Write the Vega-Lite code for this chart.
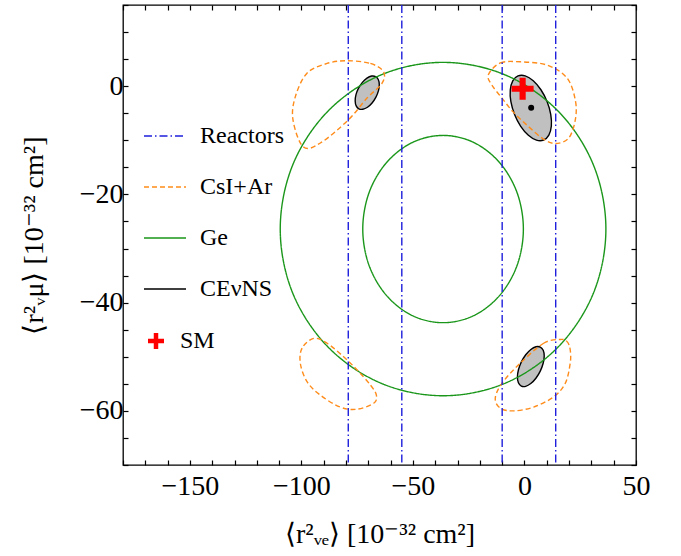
{
  "$schema": "https://vega.github.io/schema/vega-lite/v6.json",
  "width": 513,
  "height": 460,
  "autosize": {"type": "none"},
  "padding": {"left": 123, "top": 5, "right": 45, "bottom": 91},
  "config": {
    "view": {"stroke": "black", "strokeWidth": 1.3},
    "font": "Liberation Serif",
    "axis": {
      "domain": false, "grid": false, "tickColor": "black", "tickSize": -5, "tickWidth": 1.2,
      "labelFont": "Liberation Serif", "labelFontSize": 28, "labelColor": "black",
      "labelOverlap": false, "labelFlush": false,
      "titleFont": "Liberation Serif", "titleFontSize": 28, "titleFontWeight": "normal", "titleColor": "black"
    },
    "legend": {"labelFont": "Liberation Serif", "labelFontSize": 24, "labelColor": "black", "padding": 0}
  },
  "datasets": {
    "contours": [
      {"s":"Ge","id":"g1","i":0,"x":36.5,"y":-26.4},
      {"s":"Ge","id":"g1","i":1,"x":30.95,"y":-14.6},
      {"s":"Ge","id":"g1","i":2,"x":15.11,"y":-4.62},
      {"s":"Ge","id":"g1","i":3,"x":-8.54,"y":2.06},
      {"s":"Ge","id":"g1","i":4,"x":-36.5,"y":4.4},
      {"s":"Ge","id":"g1","i":5,"x":-64.46,"y":2.06},
      {"s":"Ge","id":"g1","i":6,"x":-88.11,"y":-4.62},
      {"s":"Ge","id":"g1","i":7,"x":-103.95,"y":-14.6},
      {"s":"Ge","id":"g1","i":8,"x":-109.5,"y":-26.4},
      {"s":"Ge","id":"g1","i":9,"x":-103.95,"y":-38.2},
      {"s":"Ge","id":"g1","i":10,"x":-88.11,"y":-48.18},
      {"s":"Ge","id":"g1","i":11,"x":-64.46,"y":-54.86},
      {"s":"Ge","id":"g1","i":12,"x":-36.5,"y":-57.2},
      {"s":"Ge","id":"g1","i":13,"x":-8.54,"y":-54.86},
      {"s":"Ge","id":"g1","i":14,"x":15.11,"y":-48.18},
      {"s":"Ge","id":"g1","i":15,"x":30.95,"y":-38.2},
      {"s":"Ge","id":"g2","i":0,"x":-0.5,"y":-26.4},
      {"s":"Ge","id":"g2","i":1,"x":-3.24,"y":-19.77},
      {"s":"Ge","id":"g2","i":2,"x":-11.05,"y":-14.17},
      {"s":"Ge","id":"g2","i":3,"x":-22.71,"y":-10.41},
      {"s":"Ge","id":"g2","i":4,"x":-36.5,"y":-9.1},
      {"s":"Ge","id":"g2","i":5,"x":-50.29,"y":-10.41},
      {"s":"Ge","id":"g2","i":6,"x":-61.95,"y":-14.17},
      {"s":"Ge","id":"g2","i":7,"x":-69.76,"y":-19.77},
      {"s":"Ge","id":"g2","i":8,"x":-72.5,"y":-26.4},
      {"s":"Ge","id":"g2","i":9,"x":-69.76,"y":-33.03},
      {"s":"Ge","id":"g2","i":10,"x":-61.95,"y":-38.63},
      {"s":"Ge","id":"g2","i":11,"x":-50.29,"y":-42.39},
      {"s":"Ge","id":"g2","i":12,"x":-36.5,"y":-43.7},
      {"s":"Ge","id":"g2","i":13,"x":-22.71,"y":-42.39},
      {"s":"Ge","id":"g2","i":14,"x":-11.05,"y":-38.63},
      {"s":"Ge","id":"g2","i":15,"x":-3.24,"y":-33.03},
      {"s":"CsI+Ar","id":"c1","i":0,"x":-79.6,"y":4.7},
      {"s":"CsI+Ar","id":"c1","i":1,"x":-69.1,"y":4.2},
      {"s":"CsI+Ar","id":"c1","i":2,"x":-63.2,"y":2.7},
      {"s":"CsI+Ar","id":"c1","i":3,"x":-63.9,"y":0.5},
      {"s":"CsI+Ar","id":"c1","i":4,"x":-70.6,"y":-2.2},
      {"s":"CsI+Ar","id":"c1","i":5,"x":-78.9,"y":-6.2},
      {"s":"CsI+Ar","id":"c1","i":6,"x":-91.5,"y":-10.5},
      {"s":"CsI+Ar","id":"c1","i":7,"x":-99.2,"y":-11.2},
      {"s":"CsI+Ar","id":"c1","i":8,"x":-103.8,"y":-6.2},
      {"s":"CsI+Ar","id":"c1","i":9,"x":-102.7,"y":-1.9},
      {"s":"CsI+Ar","id":"c1","i":10,"x":-97.5,"y":2.4},
      {"s":"CsI+Ar","id":"c1","i":11,"x":-88.5,"y":4.2},
      {"s":"CsI+Ar","id":"c2","i":0,"x":-16.2,"y":2.1},
      {"s":"CsI+Ar","id":"c2","i":1,"x":-10.8,"y":4.3},
      {"s":"CsI+Ar","id":"c2","i":2,"x":-1.9,"y":4.5},
      {"s":"CsI+Ar","id":"c2","i":3,"x":10.1,"y":3.9},
      {"s":"CsI+Ar","id":"c2","i":4,"x":19.1,"y":1.5},
      {"s":"CsI+Ar","id":"c2","i":5,"x":22.8,"y":-2.6},
      {"s":"CsI+Ar","id":"c2","i":6,"x":22.8,"y":-6.2},
      {"s":"CsI+Ar","id":"c2","i":7,"x":19.8,"y":-9.6},
      {"s":"CsI+Ar","id":"c2","i":8,"x":13.8,"y":-10.6},
      {"s":"CsI+Ar","id":"c2","i":9,"x":7.9,"y":-9.6},
      {"s":"CsI+Ar","id":"c2","i":10,"x":1.1,"y":-7.2},
      {"s":"CsI+Ar","id":"c2","i":11,"x":-5.2,"y":-4.7},
      {"s":"CsI+Ar","id":"c2","i":12,"x":-10.1,"y":-2.2},
      {"s":"CsI+Ar","id":"c2","i":13,"x":-14.6,"y":0.2},
      {"s":"CsI+Ar","id":"c3","i":0,"x":-94.5,"y":-46.6},
      {"s":"CsI+Ar","id":"c3","i":1,"x":-99.7,"y":-48.4},
      {"s":"CsI+Ar","id":"c3","i":2,"x":-100.5,"y":-51.2},
      {"s":"CsI+Ar","id":"c3","i":3,"x":-97.5,"y":-54.6},
      {"s":"CsI+Ar","id":"c3","i":4,"x":-91.5,"y":-57.1},
      {"s":"CsI+Ar","id":"c3","i":5,"x":-82.6,"y":-59.3},
      {"s":"CsI+Ar","id":"c3","i":6,"x":-75.1,"y":-59.7},
      {"s":"CsI+Ar","id":"c3","i":7,"x":-67.6,"y":-58.6},
      {"s":"CsI+Ar","id":"c3","i":8,"x":-66.4,"y":-57.1},
      {"s":"CsI+Ar","id":"c3","i":9,"x":-69.1,"y":-55.2},
      {"s":"CsI+Ar","id":"c3","i":10,"x":-75.1,"y":-52.4},
      {"s":"CsI+Ar","id":"c3","i":11,"x":-81.1,"y":-50.0},
      {"s":"CsI+Ar","id":"c3","i":12,"x":-88.5,"y":-47.5},
      {"s":"CsI+Ar","id":"c4","i":0,"x":16.1,"y":-46.8},
      {"s":"CsI+Ar","id":"c4","i":1,"x":8.6,"y":-47.5},
      {"s":"CsI+Ar","id":"c4","i":2,"x":-1.9,"y":-51.2},
      {"s":"CsI+Ar","id":"c4","i":3,"x":-10.1,"y":-54.9},
      {"s":"CsI+Ar","id":"c4","i":4,"x":-13.1,"y":-57.7},
      {"s":"CsI+Ar","id":"c4","i":5,"x":-10.8,"y":-59.5},
      {"s":"CsI+Ar","id":"c4","i":6,"x":-4.9,"y":-60.0},
      {"s":"CsI+Ar","id":"c4","i":7,"x":4.1,"y":-59.3},
      {"s":"CsI+Ar","id":"c4","i":8,"x":13.1,"y":-57.4},
      {"s":"CsI+Ar","id":"c4","i":9,"x":18.3,"y":-54.9},
      {"s":"CsI+Ar","id":"c4","i":10,"x":20.5,"y":-51.2},
      {"s":"CsI+Ar","id":"c4","i":11,"x":20.5,"y":-48.7},
      {"s":"CsI+Ar","id":"c4","i":12,"x":19.1,"y":-47.2}
    ],
    "cevns": [
      {"id":"e1","i":0,"x":-66.75,"y":1.78},
      {"id":"e1","i":1,"x":-65.55,"y":1.24},
      {"id":"e1","i":2,"x":-65.10,"y":0.32},
      {"id":"e1","i":3,"x":-65.46,"y":-0.83},
      {"id":"e1","i":4,"x":-66.60,"y":-2.03},
      {"id":"e1","i":5,"x":-68.33,"y":-3.11},
      {"id":"e1","i":6,"x":-70.39,"y":-3.90},
      {"id":"e1","i":7,"x":-72.47,"y":-4.27},
      {"id":"e1","i":8,"x":-74.25,"y":-4.18},
      {"id":"e1","i":9,"x":-75.45,"y":-3.64},
      {"id":"e1","i":10,"x":-75.90,"y":-2.72},
      {"id":"e1","i":11,"x":-75.54,"y":-1.57},
      {"id":"e1","i":12,"x":-74.40,"y":-0.37},
      {"id":"e1","i":13,"x":-72.67,"y":0.71},
      {"id":"e1","i":14,"x":-70.61,"y":1.50},
      {"id":"e1","i":15,"x":-68.53,"y":1.87},
      {"id":"e2","i":0,"x":8.58,"y":-9.95},
      {"id":"e2","i":1,"x":10.93,"y":-9.04},
      {"id":"e2","i":2,"x":12.05,"y":-7.37},
      {"id":"e2","i":3,"x":11.77,"y":-5.19},
      {"id":"e2","i":4,"x":10.12,"y":-2.83},
      {"id":"e2","i":5,"x":7.37,"y":-0.66},
      {"id":"e2","i":6,"x":3.93,"y":1.00},
      {"id":"e2","i":7,"x":0.33,"y":1.90},
      {"id":"e2","i":8,"x":-2.90,"y":1.89},
      {"id":"e2","i":9,"x":-5.25,"y":0.98},
      {"id":"e2","i":10,"x":-6.37,"y":-0.70},
      {"id":"e2","i":11,"x":-6.09,"y":-2.87},
      {"id":"e2","i":12,"x":-4.44,"y":-5.23},
      {"id":"e2","i":13,"x":-1.69,"y":-7.41},
      {"id":"e2","i":14,"x":1.75,"y":-9.06},
      {"id":"e2","i":15,"x":5.35,"y":-9.96},
      {"id":"e3","i":0,"x":7.10,"y":-48.20},
      {"id":"e3","i":1,"x":8.40,"y":-48.80},
      {"id":"e3","i":2,"x":8.85,"y":-49.85},
      {"id":"e3","i":3,"x":8.38,"y":-51.20},
      {"id":"e3","i":4,"x":7.07,"y":-52.65},
      {"id":"e3","i":5,"x":5.12,"y":-53.97},
      {"id":"e3","i":6,"x":2.82,"y":-54.95},
      {"id":"e3","i":7,"x":0.52,"y":-55.46},
      {"id":"e3","i":8,"x":-1.42,"y":-55.41},
      {"id":"e3","i":9,"x":-2.72,"y":-54.81},
      {"id":"e3","i":10,"x":-3.17,"y":-53.75},
      {"id":"e3","i":11,"x":-2.70,"y":-52.40},
      {"id":"e3","i":12,"x":-1.39,"y":-50.95},
      {"id":"e3","i":13,"x":0.56,"y":-49.63},
      {"id":"e3","i":14,"x":2.86,"y":-48.65},
      {"id":"e3","i":15,"x":5.16,"y":-48.14}
    ],
    "reactors": [
      {"s":"Reactors","x":-79},
      {"s":"Reactors","x":-55},
      {"s":"Reactors","x":-10},
      {"s":"Reactors","x":14}
    ],
    "sm": [{"pt":"SM","x":-0.83,"y":-0.48}],
    "best": [{"x":3,"y":-4}]
  },
  "layer": [
    {
      "data": {"name": "cevns"},
      "mark": {"type": "line", "fill": "#c0c0c0", "stroke": "black", "strokeWidth": 1.4, "interpolate": "cardinal-closed"},
      "encoding": {
        "x": {"field": "x", "type": "quantitative", "scale": {"domain": [-180, 50], "nice": false, "zero": false},
          "axis": {"orient": "bottom", "values": [-180,-170,-160,-150,-140,-130,-120,-110,-100,-90,-80,-70,-60,-50,-40,-30,-20,-10,0,10,20,30,40,50],
            "labelExpr": "datum.value % 50 === 0 ? datum.label : ''", "labelPadding": 12,
            "labelFont": "Liberation Serif", "labelFontSize": 28, "labelColor": "black",
            "titleFont": "Liberation Serif", "titleFontSize": 28, "titleFontWeight": "normal", "titleColor": "black",
            "title": "⟨r²ᵥₑ⟩ [10⁻³² cm²]", "titlePadding": 20}},
        "y": {"field": "y", "type": "quantitative", "scale": {"domain": [-70, 15], "nice": false, "zero": false},
          "axis": {"orient": "left", "values": [-70,-65,-60,-55,-50,-45,-40,-35,-30,-25,-20,-15,-10,-5,0,5,10,15],
            "labelExpr": "datum.value % 20 === 0 ? datum.label : ''", "labelPadding": 5,
            "labelFont": "Liberation Serif", "labelFontSize": 28, "labelColor": "black",
            "titleFont": "Liberation Serif", "titleFontSize": 28, "titleFontWeight": "normal", "titleColor": "black",
            "title": "⟨r²ᵥμ⟩ [10⁻³² cm²]", "titlePadding": 31}},
        "detail": {"field": "id"},
        "order": {"field": "i", "type": "quantitative"}
      }
    },
    {
      "data": {"name": "contours"},
      "mark": {"type": "line", "strokeWidth": 1.4, "interpolate": "cardinal-closed"},
      "encoding": {
        "x": {"field": "x", "type": "quantitative",
          "axis": {"orient": "top", "values": [-180,-170,-160,-150,-140,-130,-120,-110,-100,-90,-80,-70,-60,-50,-40,-30,-20,-10,0,10,20,30,40,50], "labels": false, "title": null}},
        "y": {"field": "y", "type": "quantitative",
          "axis": {"orient": "right", "values": [-70,-65,-60,-55,-50,-45,-40,-35,-30,-25,-20,-15,-10,-5,0,5,10,15], "labels": false, "title": null}},
        "detail": {"field": "id"},
        "order": {"field": "i", "type": "quantitative"},
        "color": {"field": "s", "type": "nominal",
          "scale": {"domain": ["Reactors", "CsI+Ar", "Ge", "CEνNS"], "range": ["#1f1fdc", "#ff8c1a", "#1a961a", "#000000"]},
          "legend": {"orient": "none", "legendX": 20, "legendY": 109, "title": null, "symbolType": "stroke", "symbolSize": 1764, "symbolStrokeWidth": 1.5, "labelOffset": 13, "rowPadding": 17, "labelFontSize": 24, "labelFont": "Liberation Serif"}},
        "strokeDash": {"field": "s", "type": "nominal",
          "scale": {"domain": ["Reactors", "CsI+Ar", "Ge", "CEνNS"], "range": [[8, 3, 1.5, 3], [5, 3], [1, 0], [1, 0]]},
          "legend": {"orient": "none", "legendX": 20, "legendY": 109, "title": null, "symbolType": "stroke", "symbolSize": 1764, "symbolStrokeWidth": 1.5, "labelOffset": 13, "rowPadding": 17, "labelFontSize": 24, "labelFont": "Liberation Serif"}}
      }
    },
    {
      "data": {"name": "reactors"},
      "mark": {"type": "rule", "strokeWidth": 1.4},
      "encoding": {
        "x": {"field": "x", "type": "quantitative", "axis": null},
        "color": {"field": "s", "type": "nominal"},
        "strokeDash": {"field": "s", "type": "nominal"}
      }
    },
    {
      "data": {"name": "sm"},
      "mark": {"type": "point", "filled": true, "fill": "#ff0000", "strokeWidth": 0, "size": 484, "opacity": 1},
      "encoding": {
        "x": {"field": "x", "type": "quantitative", "axis": null},
        "y": {"field": "y", "type": "quantitative", "axis": null},
        "shape": {"field": "pt", "type": "nominal",
          "scale": {"domain": ["SM"], "range": ["M-1,-0.28H-0.28V-1H0.28V-0.28H1V0.28H0.28V1H-0.28V0.28H-1Z"]},
          "legend": {"orient": "none", "legendX": 21, "legendY": 324, "title": null, "symbolSize": 256, "symbolFillColor": "#ff0000", "symbolStrokeWidth": 0, "symbolOpacity": 1, "labelOffset": 12, "labelFontSize": 24, "labelFont": "Liberation Serif"}}
      }
    },
    {
      "data": {"name": "best"},
      "mark": {"type": "point", "filled": true, "fill": "black", "strokeWidth": 0, "size": 36, "opacity": 1},
      "encoding": {
        "x": {"field": "x", "type": "quantitative", "axis": null},
        "y": {"field": "y", "type": "quantitative", "axis": null}
      }
    }
  ],
  "resolve": {"axis": {"x": "independent", "y": "independent"}}
}
